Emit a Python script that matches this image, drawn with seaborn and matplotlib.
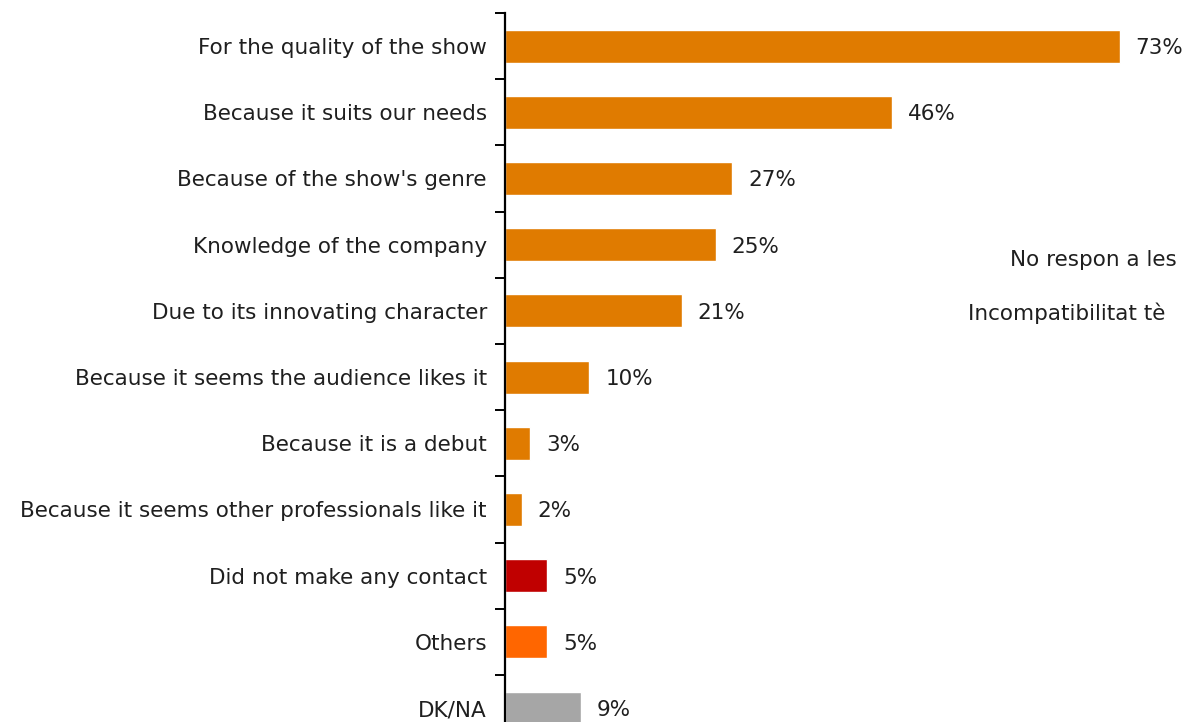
import matplotlib
matplotlib.use("Agg")
import matplotlib.pyplot as plt
import seaborn as sns
import pandas as pd

categories = [
    "For the quality of the show",
    "Because it suits our needs",
    "Because of the show's genre",
    "Knowledge of the company",
    "Due to its innovating character",
    "Because it seems the audience likes it",
    "Because it is a debut",
    "Because it seems other professionals like it",
    "Did not make any contact",
    "Others",
    "DK/NA",
]
values = [73, 46, 27, 25, 21, 10, 3, 2, 5, 5, 9]
bar_colors = ["#E07B00"] * 8 + ["#C00000", "#FF6600", "#A6A6A6"]
side_notes = ["No respon a les", "Incompatibilitat tè"]

sns.set_theme(style="white")
plt.rcParams["font.family"] = ["DejaVu Sans"]

df = pd.DataFrame({"reason": categories, "pct": values})

fig = plt.figure(figsize=(11.85, 7.22), dpi=100)
ax = fig.add_axes([505 / 1185, 0.0, 1 - 505 / 1185, 1 - 13 / 722])

sns.barplot(data=df, x="pct", y="reason", hue="reason", palette=bar_colors,
            legend=False, width=0.5, orient="h", ax=ax, saturation=1)

txt_color = "#1f1f1f"
fs = 15.5

for i, v in enumerate(values):
    ax.text(v + 1.9, i + 0.03, f"{v}%", va="center", ha="left", fontsize=fs, color=txt_color)

ax.set_xlim(0, 80.76)
ax.set_ylim(10.21, -0.5)
ax.set_xlabel("")
ax.set_ylabel("")
ax.set_xticks([])

for s in ["top", "right", "bottom"]:
    ax.spines[s].set_visible(False)
ax.spines["left"].set_linewidth(1.6)
ax.spines["left"].set_color("black")

ax.set_yticks(range(len(categories)))
ax.set_yticklabels(categories, fontsize=fs, color=txt_color)
ax.set_yticks([i - 0.5 for i in range(len(categories))], minor=True)
ax.tick_params(axis="y", which="major", length=0, pad=13)
ax.tick_params(axis="y", which="minor", left=True, length=7, width=1.4, color="black")

# Notes from the neighbouring panel on the right
fig.text(1010 / 1185, 1 - 260 / 722, side_notes[0], fontsize=fs, va="center", ha="left", color=txt_color)
fig.text(968 / 1185, 1 - 313 / 722, side_notes[1], fontsize=fs, va="center", ha="left", color=txt_color)

fig.savefig("out.png", dpi=100)
